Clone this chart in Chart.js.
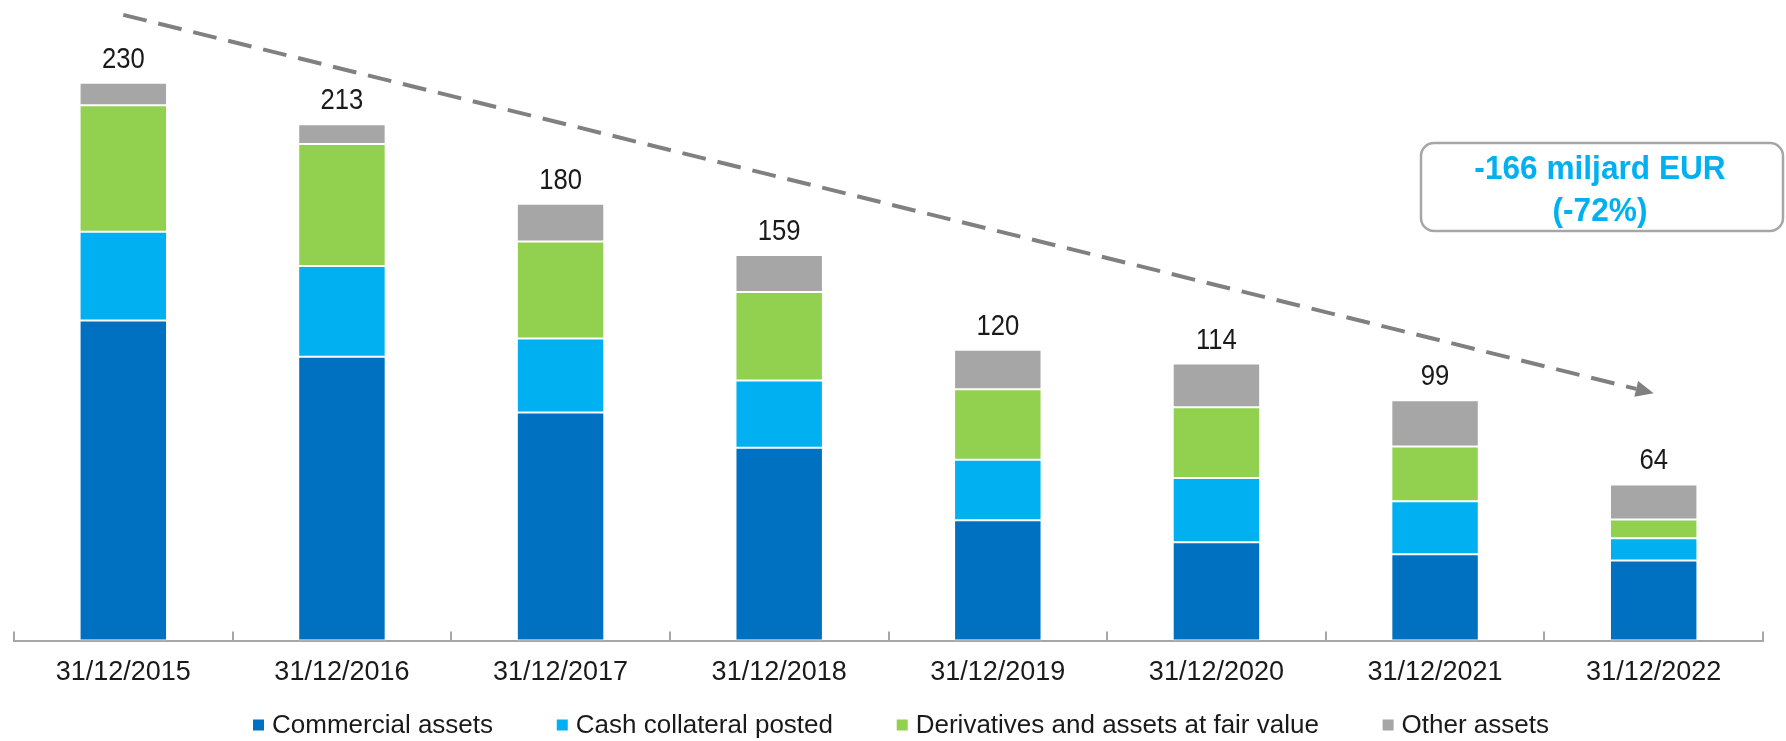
<!DOCTYPE html>
<html>
<head>
<meta charset="utf-8">
<title>Balance sheet reduction</title>
<script src="https://cdn.jsdelivr.net/npm/chart.js@4.4.1/dist/chart.umd.min.js"></script>
<style>
  html, body { margin: 0; padding: 0; background: #ffffff; }
  #wrap { position: relative; width: 1786px; height: 741px; }
</style>
</head>
<body>
<div id="wrap"><canvas id="assetsChart"></canvas></div>
<script>
  // Categories (year end dates)
  const years = ['31/12/2015', '31/12/2016', '31/12/2017', '31/12/2018',
                 '31/12/2019', '31/12/2020', '31/12/2021', '31/12/2022'];

  // Series values, EUR billion
  const commercialAssets     = [132, 117, 94, 79.5, 49.6, 40.5, 35.6, 33];
  const cashCollateral       = [36.6, 37.5, 30.6, 27.7, 25, 26.5, 21.9, 9.2];
  const derivativesFairValue = [52.1, 50.3, 40, 36.5, 29, 29.2, 22.5, 7.7];
  const otherAssets          = [9.3, 8.1, 15.5, 15.3, 16.3, 18, 19.1, 14.5];

  // Totals printed above the bars
  const totals = [230, 213, 180, 159, 120, 114, 99, 64];

  // Callout and trend arrow (arrow ends given in value units)
  const calloutLines = ['-166 miljard EUR', '(-72%)'];
  const trendStart = 258;
  const trendEnd = 102;

  const FONT = "'Liberation Sans', Arial, sans-serif";
  const TEXT_COLOR = '#1a1a1a';

  // Totals above each stack
  const totalsPlugin = {
    id: 'totals',
    afterDatasetsDraw(chart) {
      const ctx = chart.ctx;
      const meta = chart.getDatasetMeta(chart.data.datasets.length - 1);
      ctx.save();
      ctx.font = '27px ' + FONT;
      ctx.fillStyle = TEXT_COLOR;
      ctx.textAlign = 'center';
      ctx.textBaseline = 'alphabetic';
      meta.data.forEach((bar, i) => {
        ctx.save();
        ctx.translate(bar.x, bar.y - 15);
        ctx.scale(0.95, 1.07);
        ctx.fillText(String(totals[i]), 0, 0);
        ctx.restore();
      });
      ctx.restore();
    }
  };

  // Small tick marks between categories, pointing up from the axis
  const axisTicksPlugin = {
    id: 'axisTicks',
    afterDraw(chart) {
      const ctx = chart.ctx;
      const x = chart.scales.x;
      const step = x.getPixelForValue(1) - x.getPixelForValue(0);
      const bottom = chart.chartArea.bottom;
      ctx.save();
      ctx.strokeStyle = '#a6a6a6';
      ctx.lineWidth = 2;
      for (let i = 0; i <= years.length; i++) {
        const px = Math.round(x.getPixelForValue(0) - step / 2 + i * step);
        ctx.beginPath();
        ctx.moveTo(px, bottom);
        ctx.lineTo(px, bottom - 9);
        ctx.stroke();
      }
      ctx.restore();
    }
  };

  // Dashed trend arrow + callout box
  const trendPlugin = {
    id: 'trend',
    afterDraw(chart) {
      const ctx = chart.ctx;
      const xs = chart.scales.x, ys = chart.scales.y;
      const x1 = xs.getPixelForValue(0), y1 = ys.getPixelForValue(trendStart);
      const x2 = xs.getPixelForValue(years.length - 1), y2 = ys.getPixelForValue(trendEnd);
      const ang = Math.atan2(y2 - y1, x2 - x1);
      const head = 18;

      ctx.save();
      ctx.strokeStyle = '#808080';
      ctx.fillStyle = '#808080';
      ctx.lineWidth = 4;
      ctx.setLineDash([24, 12]);
      ctx.beginPath();
      ctx.moveTo(x1, y1);
      ctx.lineTo(x2 - Math.cos(ang) * head, y2 - Math.sin(ang) * head);
      ctx.stroke();
      ctx.setLineDash([]);
      ctx.beginPath();
      ctx.moveTo(x2, y2);
      ctx.lineTo(x2 - head * Math.cos(ang) + 8 * Math.sin(ang), y2 - head * Math.sin(ang) - 8 * Math.cos(ang));
      ctx.lineTo(x2 - head * Math.cos(ang) - 8 * Math.sin(ang), y2 - head * Math.sin(ang) + 8 * Math.cos(ang));
      ctx.closePath();
      ctx.fill();

      // callout box
      const bx = 1421, by = 143, bw = 362, bh = 88, r = 13;
      ctx.strokeStyle = '#a6a6a6';
      ctx.lineWidth = 2.5;
      ctx.fillStyle = '#ffffff';
      ctx.beginPath();
      ctx.roundRect(bx, by, bw, bh, r);
      ctx.fill();
      ctx.stroke();
      ctx.fillStyle = '#00b0f0';
      ctx.font = 'bold 34px ' + FONT;
      ctx.textAlign = 'center';
      ctx.textBaseline = 'middle';
      ctx.translate(bx + bw / 2 - 2, 0);
      ctx.scale(0.93, 1);
      ctx.fillText(calloutLines[0], 0, by + 27);
      ctx.fillText(calloutLines[1], 0, by + 69);
      ctx.restore();
    }
  };

  // Legend drawn along the bottom
  const legendPlugin = {
    id: 'bottomLegend',
    afterDraw(chart) {
      const ctx = chart.ctx;
      const sets = chart.data.datasets;
      const box = 11, textGap = 8;
      const left = 253, right = 1549, y = 725;
      ctx.save();
      ctx.font = '26px ' + FONT;
      const widths = sets.map(ds => box + textGap + ctx.measureText(ds.label).width);
      const used = widths.reduce((a, b) => a + b, 0);
      const itemGap = (right - left - used) / (sets.length - 1);
      let x = left;
      ctx.textBaseline = 'middle';
      ctx.textAlign = 'left';
      sets.forEach((ds, i) => {
        ctx.fillStyle = ds.backgroundColor;
        ctx.fillRect(x, y - box / 2, box, box);
        ctx.fillStyle = TEXT_COLOR;
        ctx.fillText(ds.label, x + box + textGap, y + 1);
        x += widths[i] + itemGap;
      });
      ctx.restore();
    }
  };

  const barStyle = {
    borderColor: '#ffffff',
    borderWidth: 1,
    borderSkipped: false,
    barPercentage: 0.4,
    categoryPercentage: 1
  };

  const ctx = document.getElementById('assetsChart').getContext('2d');
  const assetsChart = new Chart(ctx, {
    type: 'bar',
    data: {
      labels: years,
      datasets: [
        Object.assign({ label: 'Commercial assets', data: commercialAssets, backgroundColor: '#0070c0' }, barStyle),
        Object.assign({ label: 'Cash collateral posted', data: cashCollateral, backgroundColor: '#00b0f0' }, barStyle),
        Object.assign({ label: 'Derivatives and assets at fair value', data: derivativesFairValue, backgroundColor: '#92d050' }, barStyle),
        Object.assign({ label: 'Other assets', data: otherAssets, backgroundColor: '#a6a6a6' }, barStyle)
      ]
    },
    options: {
      responsive: true,
      maintainAspectRatio: false,
      animation: false,
      devicePixelRatio: 1,
      layout: {
        padding: { left: 14, right: 23, top: 10, bottom: 44 }
      },
      plugins: {
        legend: { display: false },
        tooltip: { enabled: false }
      },
      scales: {
        x: {
          stacked: true,
          grid: { display: false },
          border: { display: true, color: '#a6a6a6', width: 2 },
          ticks: {
            color: TEXT_COLOR,
            padding: 8,
            maxRotation: 0,
            font: { family: FONT, size: 27 }
          }
        },
        y: {
          stacked: true,
          display: false,
          min: 0,
          max: 260
        }
      }
    },
    plugins: [totalsPlugin, axisTicksPlugin, trendPlugin, legendPlugin]
  });
</script>
</body>
</html>
